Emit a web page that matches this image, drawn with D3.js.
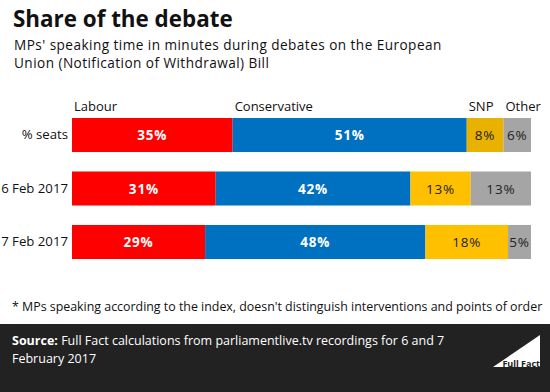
<!DOCTYPE html>
<html>
<head>
<meta charset="utf-8">
<script src="https://cdn.jsdelivr.net/npm/d3@7"></script>
<style>
  html, body { margin: 0; padding: 0; background: #fff; }
  svg { display: block; font-family: "Open Sans", "DejaVu Sans", sans-serif; }
</style>
</head>
<body>
<svg id="chart" width="550" height="392"></svg>
<script>
// ---- data ----
const rows = ["% seats", "6 Feb 2017", "7 Feb 2017"];
const parties = ["Labour", "Conservative", "SNP", "Other"];
const labour = [35, 31, 29];
const conservative = [51, 42, 48];
const snp = [8, 13, 18];
const other = [6, 13, 5];
const partyColors = ["#ff0000", "#0070c0", "#ffc000", "#a5a5a5"];
const snpSeatColor = "#e9b100";
const labelColors = ["#ffffff", "#ffffff", "#222222", "#222222"];

const title = "Share of the debate";
const subtitle = ["MPs' speaking time in minutes during debates on the European",
                  "Union (Notification of Withdrawal) Bill"];
const footnote = "* MPs speaking according to the index, doesn't distinguish interventions and points of order";
const sourceLines = ["Full Fact calculations from parliamentlive.tv recordings for 6 and 7", "February 2017"];

const table = rows.map((r, i) => ({
  row: r, Labour: labour[i], Conservative: conservative[i], SNP: snp[i], Other: other[i]
}));

const svg = d3.select("#chart");
const W = 550, H = 392;

// title
svg.append("text").attr("x", 13).attr("y", 27)
  .attr("font-size", 22.4).attr("font-weight", 700).attr("fill", "#111")
  .text(title);
svg.selectAll("text.sub").data(subtitle).join("text").attr("class", "sub")
  .attr("x", 14).attr("y", (d, i) => 49.5 + i * 18.5)
  .attr("font-size", 13.6).attr("letter-spacing", 0.45)
  .attr("fill", "#111").text(d => d);

// scales
const x = d3.scaleLinear().domain([0, 1]).range([72, 531]);
const y = d3.scaleBand().domain(rows).range([118, 259]).paddingInner(0.364).paddingOuter(0);

const stack = d3.stack().keys(parties).offset(d3.stackOffsetExpand);
const series = stack(table);

const g = svg.append("g");
series.forEach((s, k) => {
  const grp = g.append("g");
  grp.selectAll("rect").data(s).join("rect")
    .attr("x", d => x(d[0]))
    .attr("y", d => y(d.data.row))
    .attr("width", d => x(d[1]) - x(d[0]))
    .attr("height", y.bandwidth())
    .attr("fill", (d, i) => (k === 2 && i === 0) ? snpSeatColor : partyColors[k]);
  grp.selectAll("text").data(s).join("text")
    .attr("x", d => (x(d[0]) + x(d[1])) / 2)
    .attr("y", d => y(d.data.row) + y.bandwidth() / 2 + 5)
    .attr("text-anchor", "middle")
    .attr("font-size", 13.5)
    .attr("letter-spacing", 0.8)
    .attr("font-weight", k < 2 ? 700 : 400)
    .attr("fill", labelColors[k])
    .text(d => d.data[parties[k]] + "%");
});

// party header labels above first row
svg.selectAll("text.party").data(series).join("text").attr("class", "party")
  .attr("x", s => x(s[0][0]) + 2)
  .attr("y", 111)
  .attr("font-size", 13).attr("fill", "#111")
  .text(s => s.key);

// row labels via axis
const yAxis = svg.append("g").attr("transform", "translate(70,0)")
  .call(d3.axisLeft(y).tickSize(0).tickPadding(2));
yAxis.select(".domain").remove();
yAxis.selectAll("text").attr("font-size", 13.2).attr("fill", "#111")
  .attr("font-family", "\"Open Sans\", sans-serif");

// footnote
svg.append("text").attr("x", 12).attr("y", 311)
  .attr("font-size", 12.4).attr("fill", "#111").text(footnote);

// footer
svg.append("rect").attr("x", 0).attr("y", 324).attr("width", W).attr("height", H - 324).attr("fill", "#222222");
const src = svg.append("text").attr("x", 12).attr("y", 345).attr("font-size", 12.5).attr("fill", "#fff");
src.append("tspan").attr("font-weight", 700).text("Source: ");
src.append("tspan").text(sourceLines[0]);
svg.append("text").attr("x", 12).attr("y", 363).attr("font-size", 12.5).attr("fill", "#fff").text(sourceLines[1]);

// logo
svg.append("path").attr("d", "M493,367 L540,335 L540,367 Z").attr("fill", "#fff");
svg.append("text").attr("x", 540).attr("y", 367).attr("text-anchor", "end")
  .attr("font-size", 9).attr("font-weight", 700).attr("fill", "#222").text("Full Fact");
</script>
</body>
</html>
